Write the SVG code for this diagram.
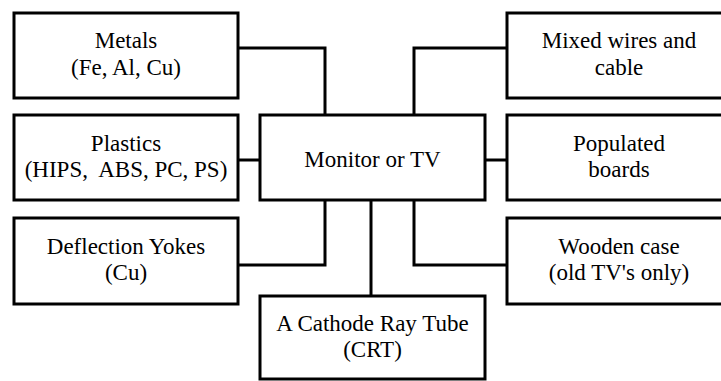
<svg xmlns="http://www.w3.org/2000/svg" width="721" height="381" viewBox="0 0 721 381">
<style>
.box{fill:#fff;stroke:#000;stroke-width:3}
.c{fill:none;stroke:#000;stroke-width:3}
text{font-family:"Liberation Serif","Times New Roman",serif;font-size:23px;fill:#000;text-anchor:middle;white-space:pre}
</style>
<rect width="721" height="381" fill="#fff"/>
<g id="connectors">
<polyline class="c" points="238,48 325,48 325,115"/>
<line class="c" x1="238" y1="160" x2="260" y2="160"/>
<polyline class="c" points="325,200 325,265 238,265"/>
<polyline class="c" points="507,48 414,48 414,115"/>
<line class="c" x1="485" y1="160" x2="507" y2="160"/>
<polyline class="c" points="414,200 414,265 507,265"/>
<line class="c" x1="371" y1="200" x2="371" y2="296"/>
</g>
<g id="metals">
<rect class="box" x="14" y="13" width="224" height="85"/>
<text x="126" y="48">Metals</text>
<text x="126" y="75">(Fe, Al, Cu)</text>
</g>
<g id="plastics">
<rect class="box" x="14" y="115" width="224" height="85"/>
<text x="126" y="151">Plastics</text>
<text x="126" y="177" xml:space="preserve">(HIPS,  ABS, PC, PS)</text>
</g>
<g id="yokes">
<rect class="box" x="14" y="218" width="224" height="86"/>
<text x="126" y="254">Deflection Yokes</text>
<text x="126" y="280">(Cu)</text>
</g>
<g id="monitor">
<rect class="box" x="260" y="115" width="225" height="85"/>
<text x="372.5" y="167">Monitor or TV</text>
</g>
<g id="wires">
<rect class="box" x="507" y="13" width="224" height="85"/>
<text x="619" y="48">Mixed wires and</text>
<text x="619" y="75">cable</text>
</g>
<g id="boards">
<rect class="box" x="507" y="115" width="224" height="85"/>
<text x="619" y="151">Populated</text>
<text x="619" y="177">boards</text>
</g>
<g id="wooden">
<rect class="box" x="507" y="218" width="224" height="86"/>
<text x="619" y="254">Wooden case</text>
<text x="619" y="280">(old TV's only)</text>
</g>
<g id="crt">
<rect class="box" x="260" y="296" width="225" height="83"/>
<text x="372.5" y="331">A Cathode Ray Tube</text>
<text x="372.5" y="357">(CRT)</text>
</g>
</svg>
